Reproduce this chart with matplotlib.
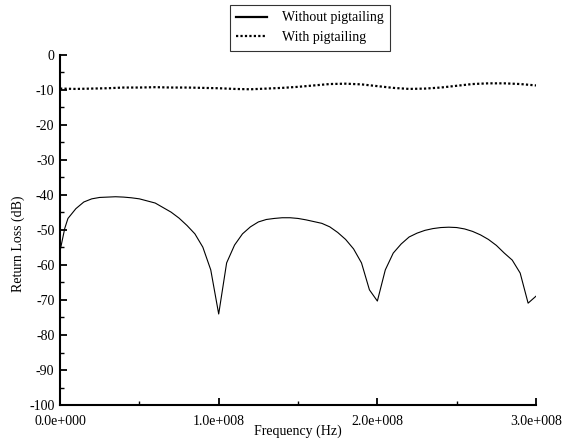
import matplotlib
matplotlib.use("Agg")
import matplotlib.pyplot as plt
from matplotlib.ticker import MultipleLocator

plt.rcParams["font.family"] = ["Liberation Serif", "DejaVu Serif"]
plt.rcParams["axes.unicode_minus"] = False

# solid curve, read every 5 MHz (plus one extra point near the start)
freq_without = [0, 3e6] + [k * 5e6 for k in range(1, 61)]
rl_without = [
    -56.0, -49.5,
    -46.7, -43.9, -42.0, -41.1, -40.7, -40.6, -40.5, -40.6, -40.8, -41.1,
    -41.7, -42.3, -43.6, -44.9, -46.6, -48.7, -51.1, -54.9, -61.4, -74.0,
    -59.4, -54.3, -51.1, -49.1, -47.7, -47.0, -46.7, -46.5, -46.5, -46.7,
    -47.1, -47.6, -48.1, -49.1, -50.7, -52.7, -55.4, -59.4, -67.1, -70.3,
    -61.4, -56.6, -54.0, -52.0, -50.9, -50.1, -49.6, -49.3, -49.2, -49.3,
    -49.7, -50.4, -51.4, -52.7, -54.4, -56.6, -58.6, -62.3, -70.9, -68.9,
]

# dotted curve, read every 10 MHz
freq_with = [k * 1e7 for k in range(31)]
rl_with = [
    -9.6, -9.7, -9.6, -9.5, -9.3, -9.3, -9.2, -9.3, -9.3, -9.4, -9.5,
    -9.7, -9.8, -9.6, -9.4, -9.1, -8.7, -8.3, -8.2, -8.4, -8.9,
    -9.4, -9.7, -9.6, -9.3, -8.8, -8.3, -8.1, -8.1, -8.3, -8.7,
]

xtick_pos = [0, 1e8, 2e8, 3e8]
xtick_labels = ["0.0e+000", "1.0e+008", "2.0e+008", "3.0e+008"]

fig = plt.figure(figsize=(5.62, 4.42), dpi=100)
ax = fig.add_axes([0.1068, 0.0837, 0.847, 0.7919])

l1, = ax.plot(freq_without, rl_without, color="black", lw=0.8)
l2, = ax.plot(freq_with, rl_with, color="black", lw=1.6, linestyle=(0, (1, 1)))

ax.set_xlim(0, 3e8)
ax.set_ylim(-100, 0)
ax.set_xticks(xtick_pos)
ax.set_xticklabels(xtick_labels)
ax.xaxis.set_minor_locator(MultipleLocator(0.5e8))
ax.yaxis.set_major_locator(MultipleLocator(10))
ax.yaxis.set_minor_locator(MultipleLocator(5))

for side in ["top", "right"]:
    ax.spines[side].set_visible(False)
for side in ["left", "bottom"]:
    ax.spines[side].set_linewidth(1.5)

ax.tick_params(which="major", direction="in", length=5, width=1.3, labelsize=10)
ax.tick_params(which="minor", direction="in", length=3, width=1.0)
ax.tick_params(axis="y", pad=4)
ax.tick_params(axis="x", pad=7)

ax.set_xlabel("Frequency (Hz)", fontsize=10, labelpad=-2)
ax.set_ylabel("Return Loss (dB)", fontsize=10)
ax.yaxis.set_label_coords(-0.073, 0.46)

leg = fig.legend([l1, l2], ["Without pigtailing", "With pigtailing"],
                 loc="center", bbox_to_anchor=(0.552, 0.937), fontsize=10,
                 frameon=True, fancybox=False, edgecolor="black",
                 handlelength=2.2, handletextpad=1.1, borderpad=0.45,
                 labelspacing=0.5)
leg.get_frame().set_linewidth(0.8)
leg.legend_handles[0].set_linewidth(1.6)

fig.savefig("out.png", dpi=100)
